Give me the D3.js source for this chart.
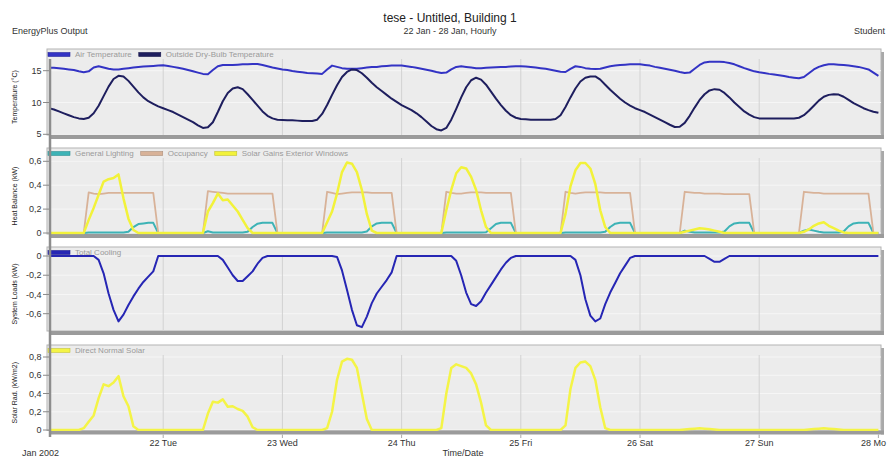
<!DOCTYPE html>
<html><head><meta charset="utf-8">
<script src="https://cdn.jsdelivr.net/npm/d3@7"></script>
<style>body{margin:0;background:#fff;} svg{display:block;font-family:"Liberation Sans",Arial,sans-serif;}</style>
</head><body><svg id="c" width="887" height="457"></svg>
<script>
// ---- data (hourly, hour 1..168) ----
const dayTickHours = [24, 48, 72, 96, 120, 144, 168];
const dayLabels = ["22 Tue", "23 Wed", "24 Thu", "25 Fri", "26 Sat", "27 Sun", "28 Mo"];
const tempTicks = [5, 10, 15];
const heatTicks = [0, 0.2, 0.4, 0.6];
const loadTicks = [-0.6, -0.4, -0.2, 0];
const solarTicks = [0, 0.2, 0.4, 0.6, 0.8];

const airTemp = [
15.5,15.45,15.4,15.3,15.2,15.1,14.9,14.75,14.9,15.5,15.7,15.5,15.3,15.2,15.2,15.3,15.4,15.5,15.6,15.65,15.7,15.75,15.8,15.85,
15.75,15.6,15.45,15.3,15.1,14.9,14.7,14.5,14.45,15.1,15.7,15.9,15.9,15.9,15.95,16.0,16.0,16.05,16.05,15.9,15.7,15.5,15.35,15.2,
15.1,14.95,14.85,14.75,14.65,14.6,14.55,14.5,15.2,15.8,15.6,15.4,15.3,15.3,15.3,15.4,15.5,15.6,15.6,15.7,15.75,15.8,15.8,15.8,
15.7,15.6,15.45,15.3,15.15,15.0,14.8,14.65,14.7,15.2,15.6,15.7,15.6,15.5,15.4,15.4,15.45,15.5,15.55,15.6,15.6,15.65,15.7,15.7,
15.65,15.6,15.5,15.4,15.3,15.15,15.0,14.85,14.8,15.3,15.7,15.6,15.4,15.3,15.25,15.3,15.5,15.7,15.8,15.9,15.95,16.0,16.0,16.0,
15.9,15.8,15.6,15.45,15.3,15.15,15.0,14.8,14.65,14.7,15.3,15.9,16.3,16.4,16.4,16.4,16.35,16.2,16.0,15.7,15.4,15.15,14.9,14.75,
14.65,14.5,14.4,14.3,14.15,14.0,13.9,13.8,14.0,14.6,15.2,15.6,15.85,16.0,16.0,15.95,15.9,15.8,15.7,15.6,15.4,15.2,14.7,14.2];

const outsideTemp = [
9.1,8.9,8.6,8.3,8.0,7.7,7.5,7.4,7.6,8.3,9.5,11.0,12.5,13.7,14.2,14.1,13.4,12.5,11.6,10.8,10.2,9.8,9.4,9.1,
8.8,8.5,8.1,7.7,7.3,6.9,6.4,6.0,6.1,6.9,8.5,10.2,11.5,12.2,12.4,12.1,11.3,10.4,9.5,8.6,7.9,7.5,7.3,7.25,
7.2,7.2,7.15,7.1,7.1,7.1,7.3,8.2,9.6,11.2,12.7,14.0,14.8,15.2,15.1,14.6,13.9,13.1,12.4,11.8,11.2,10.6,10.1,9.6,
9.2,8.8,8.3,7.7,7.0,6.3,5.8,5.6,6.0,7.3,9.0,10.8,12.4,13.5,13.9,13.6,12.8,11.7,10.6,9.6,8.7,8.0,7.6,7.4,
7.35,7.3,7.3,7.3,7.3,7.3,7.4,8.0,9.3,10.8,12.2,13.3,13.9,14.1,14.1,13.6,12.8,12.0,11.3,10.6,10.0,9.5,9.1,8.8,
8.5,8.1,7.7,7.3,6.9,6.5,6.15,6.2,6.8,7.9,9.2,10.4,11.3,11.9,12.1,12.0,11.5,10.8,10.0,9.3,8.6,8.1,7.7,7.5,
7.5,7.5,7.5,7.5,7.5,7.5,7.5,7.6,8.0,8.7,9.5,10.3,10.9,11.2,11.3,11.25,10.9,10.4,9.9,9.5,9.1,8.8,8.55,8.4];

const generalLighting = [
0,0,0,0,0,0,0,0,0.004,0.004,0.004,0.004,0.004,0.004,0.004,0.004,0.01,0.05,0.075,0.08,0.085,0.085,0,0,
0,0,0,0,0,0,0,0,0.015,0.005,0.004,0.004,0.004,0.004,0.004,0.004,0.01,0.05,0.078,0.085,0.085,0.085,0,0,
0,0,0,0,0,0,0,0,0.004,0.004,0.004,0.004,0.004,0.004,0.004,0.004,0.012,0.055,0.08,0.085,0.085,0.085,0,0,
0,0,0,0,0,0,0,0,0.004,0.004,0.004,0.004,0.004,0.004,0.004,0.004,0.006,0.04,0.075,0.085,0.085,0.085,0,0,
0,0,0,0,0,0,0,0,0.004,0.004,0.004,0.004,0.004,0.004,0.004,0.004,0.01,0.05,0.078,0.085,0.085,0.085,0,0,
0,0,0,0,0,0,0,0,0.02,0.01,0.004,0.004,0.004,0.004,0.004,0.004,0.012,0.055,0.08,0.085,0.085,0.085,0,0,
0,0,0,0,0,0,0,0,0.02,0.03,0.02,0.01,0.004,0.004,0.004,0.004,0.012,0.055,0.08,0.085,0.085,0.085,0,0];

const occupancy = [
0,0,0,0,0,0,0,0,0.34,0.33,0.325,0.33,0.335,0.335,0.335,0.335,0.335,0.335,0.335,0.335,0.335,0.335,0,0,
0,0,0,0,0,0,0,0,0.35,0.345,0.34,0.335,0.33,0.33,0.33,0.33,0.33,0.33,0.33,0.33,0.33,0.33,0,0,
0,0,0,0,0,0,0,0,0.345,0.335,0.325,0.33,0.335,0.34,0.34,0.34,0.34,0.335,0.335,0.335,0.335,0.335,0,0,
0,0,0,0,0,0,0,0,0.345,0.335,0.33,0.33,0.335,0.34,0.34,0.34,0.335,0.335,0.335,0.335,0.335,0.335,0,0,
0,0,0,0,0,0,0,0,0.345,0.335,0.33,0.335,0.34,0.34,0.34,0.34,0.335,0.335,0.335,0.335,0.335,0.335,0,0,
0,0,0,0,0,0,0,0,0.345,0.34,0.335,0.335,0.33,0.33,0.33,0.33,0.325,0.325,0.325,0.325,0.325,0.325,0,0,
0,0,0,0,0,0,0,0,0.345,0.34,0.335,0.335,0.33,0.33,0.33,0.33,0.33,0.33,0.33,0.33,0.33,0.33,0,0];

const solarGains = [
0,0,0,0,0,0,0,0,0.11,0.21,0.32,0.43,0.45,0.46,0.49,0.29,0.12,0.025,0,0,0,0,0,0,
0,0,0,0,0,0,0,0,0.18,0.25,0.33,0.275,0.28,0.23,0.18,0.11,0.04,0,0,0,0,0,0,0,
0,0,0,0,0,0,0,0,0.09,0.18,0.33,0.51,0.59,0.58,0.51,0.36,0.16,0.02,0,0,0,0,0,0,
0,0,0,0,0,0,0,0,0.19,0.36,0.5,0.55,0.54,0.47,0.36,0.19,0.05,0,0,0,0,0,0,0,
0,0,0,0,0,0,0,0,0.16,0.39,0.525,0.586,0.586,0.54,0.41,0.19,0.05,0,0,0,0,0,0,0,
0,0,0,0,0,0,0,0,0.01,0.02,0.03,0.04,0.035,0.03,0.02,0.01,0,0,0,0,0,0,0,0,
0,0,0,0,0,0,0,0,0.01,0.03,0.06,0.08,0.09,0.06,0.04,0.02,0.005,0,0,0,0,0,0,0];

const totalCooling = [
0,0,0,0,0,0,0,0,0,0,-0.04,-0.18,-0.39,-0.56,-0.68,-0.61,-0.51,-0.42,-0.34,-0.27,-0.215,-0.16,0,0,
0,0,0,0,0,0,0,0,0,0,0,-0.04,-0.12,-0.2,-0.26,-0.26,-0.21,-0.16,-0.08,-0.02,0,0,0,0,
0,0,0,0,0,0,0,0,0,0,-0.01,-0.15,-0.35,-0.56,-0.72,-0.74,-0.63,-0.49,-0.39,-0.32,-0.25,-0.17,0,0,
0,0,0,0,0,0,0,0,0,0,-0.05,-0.2,-0.38,-0.5,-0.52,-0.47,-0.38,-0.3,-0.22,-0.14,-0.07,-0.02,0,0,
0,0,0,0,0,0,0,0,0,0,-0.04,-0.2,-0.45,-0.62,-0.68,-0.65,-0.5,-0.38,-0.28,-0.18,-0.1,-0.02,0,0,
0,0,0,0,0,0,0,0,0,0,0,0,0,-0.03,-0.06,-0.06,-0.03,0,0,0,0,0,0,0,
0,0,0,0,0,0,0,0,0,0,0,0,0,0,0,0,0,0,0,0,0,0,0,0];

const directNormalSolar = [
0,0,0,0,0,0,0,0.02,0.09,0.16,0.35,0.5,0.48,0.52,0.59,0.37,0.26,0.04,0,0,0,0,0,0,
0,0,0,0,0,0,0,0,0.18,0.31,0.3,0.336,0.255,0.26,0.23,0.21,0.146,0.03,0,0,0,0,0,0,
0,0,0,0,0,0,0,0,0.02,0.2,0.55,0.75,0.78,0.77,0.68,0.4,0.12,0,0,0,0,0,0,0,
0,0,0,0,0,0,0,0.02,0.4,0.68,0.72,0.7,0.68,0.62,0.5,0.3,0.05,0,0,0,0,0,0,0,
0,0,0,0,0,0,0,0,0.05,0.45,0.68,0.74,0.75,0.7,0.55,0.25,0.02,0,0,0,0,0,0,0,
0,0,0,0,0,0,0,0,0.005,0.01,0.015,0.02,0.015,0.01,0.005,0,0,0,0,0,0,0,0,0,
0,0,0,0,0,0,0,0,0,0.005,0.01,0.015,0.02,0.015,0.01,0.005,0,0,0,0,0,0,0,0];

// ---- drawing ----
const svg = d3.select("#c");
const x = d3.scaleLinear().domain([0, 168]).range([44, 878.4]);
const hours = airTemp.map((_, i) => i + 1);
const loc = d3.formatLocale({decimal: ",", thousands: ".", grouping: [3], currency: ["", ""], minus: "-"});
const fmt = loc.format("~g");

const panels = [
  {top: 49, bottom: 135, domain: [5, 15], range: [134.3, 70.7], ticks: tempTicks, label: "Temperature (°C)",
   series: [{name: "Air Temperature", data: airTemp, color: "#3333c4", w: 2},
            {name: "Outside Dry-Bulb Temperature", data: outsideTemp, color: "#1e1e5e", w: 2}]},
  {top: 148, bottom: 234, domain: [0, 0.6], range: [233, 161.3], ticks: heatTicks, label: "Heat Balance (kW)",
   series: [{name: "General Lighting", data: generalLighting, color: "#3db3b6", w: 2},
            {name: "Occupancy", data: occupancy, color: "#d8b298", w: 1.8},
            {name: "Solar Gains Exterior Windows", data: solarGains, color: "#f2f23a", w: 2.5}]},
  {top: 247, bottom: 331, domain: [-0.6, 0], range: [313.7, 256], ticks: loadTicks, label: "System Loads (kW)",
   series: [{name: "Total Cooling", data: totalCooling, color: "#2626b4", w: 2}]},
  {top: 345, bottom: 430.5, domain: [0, 0.8], range: [430, 357], ticks: solarTicks, label: "Solar Rad. (kW/m2)",
   series: [{name: "Direct Normal Solar", data: directNormalSolar, color: "#f4f446", w: 2.5}]}
];

const pl = 47, pr = 881;

// header
svg.append("text").attr("x", 450).attr("y", 22).attr("text-anchor", "middle")
  .attr("font-size", 12).attr("fill", "#222").text("tese - Untitled, Building 1");
svg.append("text").attr("x", 450).attr("y", 34).attr("text-anchor", "middle")
  .attr("font-size", 9).attr("fill", "#333").text("22 Jan - 28 Jan, Hourly");
svg.append("text").attr("x", 12).attr("y", 34).attr("font-size", 9).attr("fill", "#333").text("EnergyPlus Output");
svg.append("text").attr("x", 885).attr("y", 34).attr("text-anchor", "end").attr("font-size", 9).attr("fill", "#333").text("Student");

panels.forEach((p, pi) => {
  const y = d3.scaleLinear().domain(p.domain).range(p.range);
  const g = svg.append("g");
  g.append("rect").attr("x", pr).attr("y", p.top + 3).attr("width", 3).attr("height", p.bottom - p.top + 1).attr("fill", "#a9a9a9");
  g.append("rect").attr("x", pl).attr("y", p.top).attr("width", pr - pl).attr("height", p.bottom - p.top)
    .attr("fill", "#ececec").attr("stroke", "#b4b4b4").attr("stroke-width", 1);
  g.selectAll(".hg").data(p.ticks).enter().append("line")
    .attr("x1", 51).attr("x2", pr).attr("y1", d => y(d)).attr("y2", d => y(d))
    .attr("stroke", "#f6f6f6").attr("stroke-width", 1);
  g.selectAll(".vg").data(dayTickHours.slice(0, -1)).enter().append("line")
    .attr("x1", d => x(d)).attr("x2", d => x(d)).attr("y1", p.top + 10).attr("y2", p.bottom)
    .attr("stroke", "#d2d2d2").attr("stroke-width", 1);
  g.append("rect").attr("x", 50).attr("y", p.bottom).attr("width", pr + 3 - 50).attr("height", 4).attr("fill", "#9b9b9b");

  g.selectAll(".yt").data(p.ticks).enter().append("line")
    .attr("x1", 43).attr("x2", 49).attr("y1", d => y(d)).attr("y2", d => y(d))
    .attr("stroke", "#888").attr("stroke-width", 1);
  g.selectAll(".yl").data(p.ticks).enter().append("text")
    .attr("x", 41.5).attr("y", d => y(d)).attr("dy", "0.35em").attr("text-anchor", "end")
    .attr("font-size", 9).attr("fill", "#333").text(d => fmt(d));
  const cy = (p.top + 10 + p.bottom) / 2;
  g.append("text").attr("transform", `translate(17,${cy}) rotate(-90)`).attr("text-anchor", "middle")
    .attr("font-size", 7).attr("fill", "#222").text(p.label);

  const cid = "clip" + pi;
  svg.append("clipPath").attr("id", cid).append("rect")
    .attr("x", 51).attr("y", p.top + 1).attr("width", pr - 51).attr("height", p.bottom - p.top - 0.5);
  const line = d3.line().x((d, i) => x(hours[i])).y(d => y(d)).curve(d3.curveLinear);
  const lg = svg.append("g").attr("clip-path", `url(#${cid})`);
  p.series.forEach(s => {
    lg.append("path").datum(s.data).attr("d", line).attr("fill", "none")
      .attr("stroke", s.color).attr("stroke-width", s.w).attr("stroke-linejoin", "round");
  });

  let lx = 48;
  const ly = p.top + 5.5;
  p.series.forEach(s => {
    svg.append("rect").attr("x", lx).attr("y", ly - 2).attr("width", 22).attr("height", 4)
      .attr("fill", s.color).attr("stroke", d3.color(s.color).darker(0.6)).attr("stroke-width", 0.6);
    const t = svg.append("text").attr("x", lx + 27).attr("y", ly).attr("dy", "0.35em")
      .attr("font-size", 8).attr("fill", "#9a9a9a").text(s.name);
    lx = lx + 27 + t.node().getComputedTextLength() + 7;
  });
});

svg.append("line").attr("x1", 50).attr("x2", 50).attr("y1", 59).attr("y2", 437)
  .attr("stroke", "#8d8d8d").attr("stroke-width", 2.5);

svg.selectAll(".xt").data(dayTickHours).enter().append("line")
  .attr("x1", d => x(d)).attr("x2", d => x(d)).attr("y1", 434.5).attr("y2", 438)
  .attr("stroke", "#aaa").attr("stroke-width", 1);
const last = dayTickHours.length - 1;
svg.selectAll(".xl").data(dayTickHours).enter().append("text")
  .attr("x", (d, i) => i === last ? 886 : x(d)).attr("y", 446)
  .attr("text-anchor", (d, i) => i === last ? "end" : "middle")
  .attr("font-size", 9).attr("fill", "#333").text((d, i) => dayLabels[i]);
svg.append("text").attr("x", 22).attr("y", 456).attr("font-size", 9).attr("fill", "#333").text("Jan  2002");
svg.append("text").attr("x", 463).attr("y", 456).attr("text-anchor", "middle").attr("font-size", 9).attr("fill", "#333").text("Time/Date");
</script></body></html>
